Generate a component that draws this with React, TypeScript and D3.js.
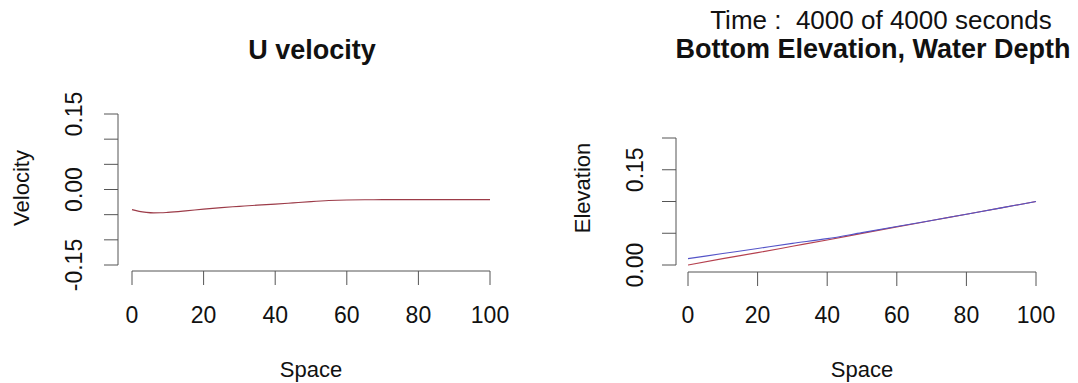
import React from "react";
import * as d3 from "d3";

// ---- data ----
const velSpace = [0, 2, 4, 6, 8, 10, 15, 20, 25, 30, 35, 40, 45, 50, 55, 60, 65, 70, 75, 80, 85, 90, 95, 100];
const velocity = [-0.040, -0.0435, -0.0455, -0.0465, -0.0463, -0.0455, -0.0425, -0.039, -0.036, -0.0335, -0.031, -0.029, -0.0265, -0.024, -0.022, -0.0208, -0.0203, -0.0202, -0.0202, -0.0202, -0.0202, -0.0202, -0.0202, -0.0202];

const elevSpace = [0, 10, 20, 30, 40, 50, 60, 70, 80, 90, 100];
const bottomElevation = [0.0, 0.01, 0.0195, 0.0295, 0.0395, 0.0498, 0.06, 0.07, 0.08, 0.09, 0.1];
const waterSurface = [0.010, 0.018, 0.026, 0.034, 0.0415, 0.051, 0.0605, 0.070, 0.080, 0.090, 0.100];

const xTicks = [0, 20, 40, 60, 80, 100];
const velTicks = [-0.15, -0.1, -0.05, 0, 0.05, 0.1, 0.15];
const velTickLabels = ["-0.15", "", "", "0.00", "", "", "0.15"];
const elevTicks = [0, 0.05, 0.1, 0.15, 0.2];
const elevTickLabels = ["0.00", "", "", "0.15", ""];

const FONT = "'Liberation Sans', Arial, Helvetica, sans-serif";
const AXIS = "#555";

type PanelProps = {
  x: d3.ScaleLinear<number, number>;
  y: d3.ScaleLinear<number, number>;
  yAxisX: number;
  xAxisY: number;
  yTicks: number[];
  yLabels: string[];
  yLabelX: number;
  yTitle: string;
  yTitleX: number;
  yTitleY: number;
  titleCx: number;
};

function Axes(p: PanelProps) {
  const { x, y, yAxisX, xAxisY } = p;
  const tl = 14;
  const yTop = y(p.yTicks[p.yTicks.length - 1]);
  const yBot = y(p.yTicks[0]);
  return (
    <g fontFamily={FONT}>
      {/* y axis */}
      <line x1={yAxisX} x2={yAxisX} y1={yTop} y2={yBot} stroke={AXIS} strokeWidth={1} />
      {p.yTicks.map((t, i) => (
        <g key={"yt" + i}>
          <line x1={yAxisX - tl} x2={yAxisX} y1={y(t)} y2={y(t)} stroke={AXIS} strokeWidth={1} />
          {p.yLabels[i] && (
            <text
              transform={`translate(${p.yLabelX},${y(t)}) rotate(-90)`}
              textAnchor="middle"
              fontSize={23}
              fill="#111"
            >
              {p.yLabels[i]}
            </text>
          )}
        </g>
      ))}
      <text
        transform={`translate(${p.yTitleX},${p.yTitleY}) rotate(-90)`}
        textAnchor="middle"
        fontSize={22}
        fill="#111"
      >
        {p.yTitle}
      </text>
      {/* x axis */}
      <line x1={x(xTicks[0])} x2={x(xTicks[xTicks.length - 1])} y1={xAxisY} y2={xAxisY} stroke={AXIS} strokeWidth={1} />
      {xTicks.map((t) => (
        <g key={"xt" + t}>
          <line x1={x(t)} x2={x(t)} y1={xAxisY} y2={xAxisY + tl} stroke={AXIS} strokeWidth={1} />
          <text x={x(t)} y={323} textAnchor="middle" fontSize={23} fill="#111">
            {t}
          </text>
        </g>
      ))}
      <text x={p.titleCx} y={377} textAnchor="middle" fontSize={22} fill="#111">
        Space
      </text>
    </g>
  );
}

export default function App() {
  // left panel scales
  const xL = d3.scaleLinear().domain([0, 100]).range([132, 490]);
  const yL = d3.scaleLinear().domain([-0.15, 0.15]).range([265, 114]);
  // right panel scales
  const xR = d3.scaleLinear().domain([0, 100]).range([688, 1036]);
  const yR = d3.scaleLinear().domain([0, 0.2]).range([265, 138]);

  const velLine = d3
    .line<number>()
    .x((_, i) => xL(velSpace[i]))
    .y((d) => yL(d))
    .curve(d3.curveMonotoneX);

  const elevLine = d3
    .line<number>()
    .x((_, i) => xR(elevSpace[i]))
    .y((d) => yR(d))
    .curve(d3.curveMonotoneX);

  return (
    <svg
      width={1078}
      height={383}
      style={{ position: "absolute", left: 0, top: 0, background: "#fff" }}
    >
      <rect width={1078} height={383} fill="#fff" />
      {/* Left panel */}
      <text x={312} y={59} textAnchor="middle" fontSize={27} fontWeight="bold" fontFamily={FONT} fill="#111">
        U velocity
      </text>
      <Axes
        x={xL}
        y={yL}
        yAxisX={118}
        xAxisY={271}
        yTicks={velTicks}
        yLabels={velTickLabels}
        yLabelX={82}
        yTitle="Velocity"
        yTitleX={29}
        yTitleY={188}
        titleCx={311}
      />
      <path d={velLine(velocity) || ""} fill="none" stroke="#9c3b48" strokeWidth={1.1} />

      {/* Right panel */}
      <text
        x={881}
        y={29}
        textAnchor="middle"
        fontSize={26}
        fontFamily={FONT}
        fill="#111"
        style={{ whiteSpace: "pre" }}
        xmlSpace="preserve"
      >
        {"Time :  4000 of 4000 seconds"}
      </text>
      <text x={873} y={58} textAnchor="middle" fontSize={27} fontWeight="bold" fontFamily={FONT} fill="#111">
        Bottom Elevation, Water Depth
      </text>
      <Axes
        x={xR}
        y={yR}
        yAxisX={676}
        xAxisY={272}
        yTicks={elevTicks}
        yLabels={elevTickLabels}
        yLabelX={643}
        yTitle="Elevation"
        yTitleX={590}
        yTitleY={188}
        titleCx={862}
      />
      <path d={elevLine(bottomElevation) || ""} fill="none" stroke="#b5404e" strokeWidth={1.1} />
      <path d={elevLine(waterSurface) || ""} fill="none" stroke="#5454c8" strokeWidth={1.1} />
    </svg>
  );
}
